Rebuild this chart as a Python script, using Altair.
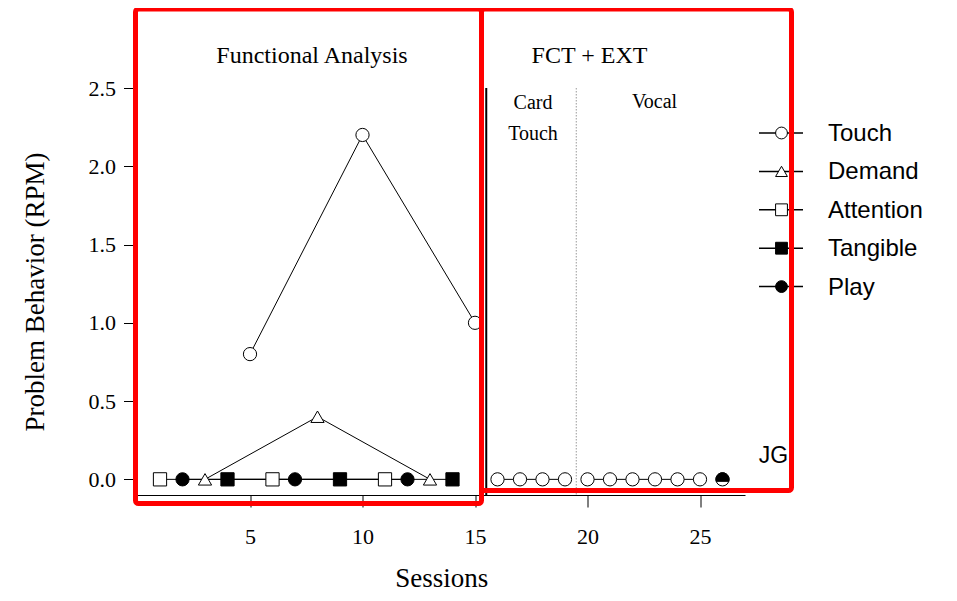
import altair as alt
import pandas as pd

# ---------------- data ----------------
conditions = ["Touch", "Demand", "Attention", "Tangible", "Play"]

fa_sessions = list(range(1, 16))
fa_conditions = ["Attention", "Play", "Demand", "Tangible", "Touch"] * 3
fa_values = [0, 0, 0, 0, 0.8,
             0, 0, 0.4, 0, 2.2,
             0, 0, 0, 0, 1.0]

fct_sessions = list(range(16, 27))
fct_conditions = ["Touch"] * 11
fct_segments = ["Card Touch"] * 4 + ["Vocal"] * 6 + ["Probe"]
fct_values = [0] * 11

overlap_sessions = [26]
overlap_values = [0]

phase_change = [15.5]
sub_phase_change = [19.5]

x_ticks = [5, 10, 15, 20, 25]
y_ticks = [0.0, 0.5, 1.0, 1.5, 2.0, 2.5]

# ---------------- frames ----------------
fa = pd.DataFrame({"session": fa_sessions, "condition": fa_conditions,
                   "value": fa_values,
                   "segment": ["FA " + c for c in fa_conditions]})
fct = pd.DataFrame({"session": fct_sessions, "condition": fct_conditions,
                    "value": fct_values,
                    "segment": ["FCT " + s for s in fct_segments]})
df = pd.concat([fa, fct], ignore_index=True)
overlap = pd.DataFrame({"session": overlap_sessions, "value": overlap_values})
legend_df = pd.DataFrame({"condition": conditions})
one = pd.DataFrame({"k": [0]})

serif = "Liberation Serif"
sans = "Liberation Sans"

x_scale = alt.Scale(domain=[0, 27], nice=False, zero=False)
y_scale = alt.Scale(domain=[-0.1, 2.5], nice=False, zero=False)

x_enc = alt.X("session:Q", scale=x_scale,
              axis=alt.Axis(values=x_ticks, title="Sessions", grid=False,
                            labelFont=serif, labelFontSize=22, labelColor="black",
                            tickSize=12, tickColor="black", domainColor="black",
                            labelPadding=19, titleFont=serif, titleFontSize=27,
                            titleFontWeight="normal", titleColor="black",
                            titlePadding=18))
y_enc = alt.Y("value:Q", scale=y_scale,
              axis=alt.Axis(values=y_ticks, format=".1f",
                            title="Problem Behavior (RPM)", grid=False,
                            labelFont=serif, labelFontSize=22, labelColor="black",
                            tickSize=10, tickColor="black", domainColor="black",
                            offset=4, labelPadding=8, titleFont=serif,
                            titleFontSize=27, titleFontWeight="normal",
                            titleColor="black", titlePadding=39))

shape_scale = alt.Scale(domain=conditions,
                        range=["circle", "triangle-up", "square", "square", "circle"])
fill_scale = alt.Scale(domain=conditions,
                       range=["white", "white", "white", "black", "black"])

base = alt.Chart(df)

lines = base.mark_line(color="black", strokeWidth=1).encode(
    x=x_enc, y=y_enc, detail="segment:N", order="session:Q")

points = base.mark_point(filled=True, size=175, opacity=1, stroke="black",
                         strokeWidth=1).encode(
    x="session:Q", y="value:Q",
    shape=alt.Shape("condition:N", scale=shape_scale, legend=None),
    fill=alt.Fill("condition:N", scale=fill_scale, legend=None))

half = "M-0.954,0.3A1,1,0,1,1,0.954,0.3Z"
overlap_pts = alt.Chart(overlap).mark_point(
    filled=True, size=175, opacity=1, shape=half, fill="black",
    stroke="black", strokeWidth=1).encode(x="session:Q", y="value:Q")

# ---------------- custom legend (line through each symbol) ----------------
leg = alt.Chart(legend_df).transform_window(
    rank="row_number()").transform_calculate(
    ly="45 + (datum.rank - 1) * 38.4")
leg_y = alt.Y("ly:Q", scale=None)
leg_lines = leg.mark_rule(color="black", strokeWidth=1.5).encode(
    x=alt.value(621.5), x2=alt.value(665.5), y=leg_y)
leg_pts = leg.mark_point(filled=True, size=140, opacity=1, stroke="black",
                         strokeWidth=1).encode(
    x=alt.value(644), y=leg_y,
    shape=alt.Shape("condition:N", scale=shape_scale, legend=None),
    fill=alt.Fill("condition:N", scale=fill_scale, legend=None))
leg_text = leg.mark_text(font=sans, fontSize=24, color="black", align="left",
                         baseline="middle", dy=1).encode(
    x=alt.value(690.5), y=leg_y, text="condition:N")

phase_rule = alt.Chart(pd.DataFrame({"x": phase_change})).mark_rule(
    color="black", strokeWidth=2).encode(
    x="x:Q", y=alt.datum(2.5), y2=alt.datum(-0.1))
sub_rule = alt.Chart(pd.DataFrame({"x": sub_phase_change})).mark_rule(
    color="#999999", strokeWidth=1, strokeDash=[1.5, 1.5]).encode(
    x="x:Q", y=alt.datum(2.5), y2=alt.datum(-0.1))


def label(text, x, y, font=serif, size=22):
    return alt.Chart(one).mark_text(text=text, font=font, fontSize=size,
                                    color="black", align="center",
                                    baseline="alphabetic").encode(
        x=alt.value(x), y=alt.value(y))


texts = [
    label("Functional Analysis", 174.5, -25, size=24),
    label("FCT + EXT", 452, -25, size=24),
    label("Card", 395.5, 21, size=20),
    label("Touch", 395.5, 52, size=20),
    label("Vocal", 517, 20, size=20),
    label("JG", 636, 375, font=sans, size=23),
]

box1 = alt.Chart(one).mark_rect(filled=False, stroke="red", strokeWidth=5,
                                cornerRadius=3).encode(
    x=alt.value(-2), x2=alt.value(344), y=alt.value(-79), y2=alt.value(415.5))
box2 = alt.Chart(one).mark_rect(filled=False, stroke="red", strokeWidth=5,
                                cornerRadius=3).encode(
    x=alt.value(344), x2=alt.value(654), y=alt.value(-79), y2=alt.value(402.5))

chart = alt.layer(
    phase_rule, sub_rule, lines, points, overlap_pts,
    leg_lines, leg_pts, leg_text,
    *texts, box1, box2
).properties(
    width=607.5, height=407,
    autosize=alt.AutoSizeParams(type="none"),
    padding={"left": 129.5, "top": 80, "right": 200, "bottom": 97},
    background="white",
).configure_view(stroke=None)

chart.save("out.html", embed_options={"renderer": "svg", "actions": False})
